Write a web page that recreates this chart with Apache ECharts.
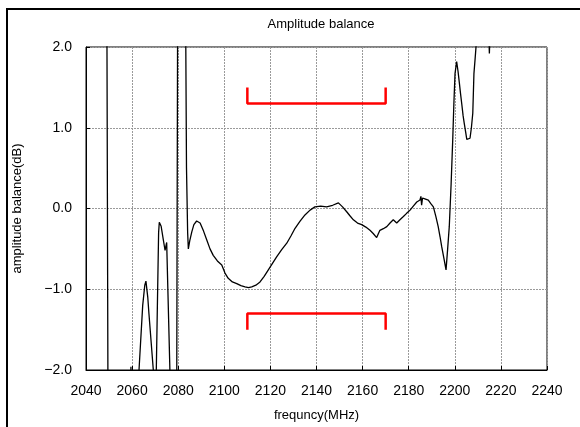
<!DOCTYPE html>
<html>
<head>
<meta charset="utf-8">
<script src="https://cdn.jsdelivr.net/npm/echarts@6/dist/echarts.min.js"></script>
<style>
html,body{margin:0;padding:0;background:#fff;}
#chart{width:580px;height:427px;}
</style>
</head>
<body>
<div id="chart"></div>
<script>
// ---- data ----
const xTicks = [2040, 2060, 2080, 2100, 2120, 2140, 2160, 2180, 2200, 2220, 2240];
const yTicks = [-2.0, -1.0, 0.0, 1.0, 2.0];

// frequency (MHz)
const freqs = [
  2040, 2049.0, 2049.6, 2059.3, 2059.5, 2059.7, 2062.5, 2063.0, 2064.6, 2065.5, 2066.0, 2066.8, 2067.3, 2069.2, 2069.6,
  2070.0, 2070.5, 2071.5, 2071.8, 2072.6, 2073.5, 2074.3, 2075.0, 2075.7, 2076.4, 2076.8, 2079.3, 2079.8, 2083.1, 2083.6,
  2084.1, 2084.4, 2085.0, 2085.9, 2086.8, 2088.0, 2089.5, 2091.0, 2092.4, 2093.8, 2095.2, 2097.0, 2098.9, 2100.3, 2101.7,
  2103.5, 2105.4, 2107.2, 2109.0, 2110.5, 2111.9, 2113.7, 2115.5, 2117.3, 2119.1, 2120.9, 2122.7, 2124.9, 2127.1, 2128.9,
  2130.7, 2132.8, 2135.0, 2137.2, 2139.3, 2141.8, 2144.4, 2147.0, 2149.5, 2151.3, 2153.1, 2154.5, 2156.0, 2157.8, 2159.6,
  2161.4, 2163.2, 2164.6, 2166.1, 2167.5, 2169.0, 2170.5, 2171.9, 2173.3, 2174.8, 2176.2, 2177.7, 2179.1, 2180.6, 2182.0,
  2183.5, 2184.9, 2185.3, 2185.6, 2186.0, 2187.0, 2188.5, 2189.6, 2190.7, 2191.8, 2192.8, 2193.6, 2194.3, 2195.3, 2196.2,
  2196.9, 2197.6, 2198.4, 2199.1, 2199.6, 2200.1, 2200.8, 2201.4, 2202.0, 2202.5, 2203.0, 2203.6, 2204.1, 2204.7, 2205.2,
  2206.0, 2206.6, 2207.2, 2207.8, 2208.3, 2208.8, 2209.2, 2209.6, 2214.7, 2215.0, 2215.3, 2240
];
// amplitude balance (dB)
const amps = [
  3, 3, -3, -3, -1.96, -3, -3, -2.0, -1.2, -0.95, -0.90, -1.1, -1.3, -2.0, -3,
  -3, -2.0, -0.3, -0.17, -0.22, -0.38, -0.52, -0.42, -0.42, -2.0, -3, -3, 3, 3, 0.5,
  -0.3, -0.5, -0.4, -0.29, -0.2, -0.155, -0.18, -0.28, -0.39, -0.5, -0.58, -0.65, -0.70, -0.8, -0.865,
  -0.91, -0.93, -0.955, -0.97, -0.98, -0.97, -0.95, -0.91, -0.84, -0.76, -0.68, -0.60, -0.51, -0.43, -0.34,
  -0.245, -0.16, -0.08, -0.02, 0.02, 0.03, 0.02, 0.04, 0.07, 0.02, -0.04, -0.09, -0.14, -0.18, -0.20,
  -0.23, -0.27, -0.31, -0.36, -0.27, -0.25, -0.225, -0.18, -0.14, -0.18, -0.14, -0.10, -0.06, -0.02, 0.03,
  0.08, 0.105, 0.15, 0.04, 0.13, 0.12, 0.105, 0.06, 0.02, -0.1, -0.225, -0.35, -0.47, -0.62, -0.76,
  -0.5, -0.225, 0.3, 0.85, 1.3, 1.67, 1.82, 1.7, 1.55, 1.42, 1.30, 1.15, 1.055, 0.95, 0.857,
  0.85, 0.87, 1.0, 1.18, 1.67, 1.85, 2.0, 2.2, 2.2, 1.92, 2.2, 3
];

// spec limit brackets
const upperLimitX = [2110, 2110, 2170, 2170];
const upperLimitY = [1.5, 1.3, 1.3, 1.5];
const lowerLimitX = [2110, 2110, 2170, 2170];
const lowerLimitY = [-1.5, -1.3, -1.3, -1.5];

const zip = (a, b) => a.map((v, i) => [v, b[i]]);
const FONT = 'Liberation Sans';

const chart = echarts.init(document.getElementById('chart'), null, {renderer: 'canvas'});
chart.setOption({
  animation: false,
  backgroundColor: '#fff',
  textStyle: {fontFamily: FONT},
  title: {
    text: 'Amplitude balance',
    left: 316, top: 13, textAlign: 'center',
    textStyle: {fontSize: 13, fontWeight: 'normal', color: '#000', fontFamily: FONT}
  },
  graphic: [{
    type: 'rect', shape: {x: 7, y: 9, width: 700, height: 700},
    style: {fill: 'none', stroke: '#000', lineWidth: 2}, silent: true, z: -1
  }],
  grid: {left: 86, right: 33, top: 47, bottom: 57, show: true, borderColor: '#000', borderWidth: 1, backgroundColor: '#fff'},
  xAxis: {
    type: 'value', min: xTicks[0], max: xTicks[xTicks.length - 1], interval: 20,
    name: 'frequncy(MHz)', nameLocation: 'middle', nameGap: 39,
    nameTextStyle: {fontSize: 13, color: '#000', fontFamily: FONT},
    axisLine: {show: true, onZero: false, lineStyle: {color: '#000', width: 1}},
    axisTick: {show: true, inside: true, length: 4, lineStyle: {color: '#000'}},
    axisLabel: {fontSize: 14, color: '#000', margin: 14, fontFamily: FONT, formatter: v => String(v)},
    splitLine: {show: true, lineStyle: {color: '#9a9a9a', type: [2, 1], width: 1}}
  },
  yAxis: {
    type: 'value', min: yTicks[0], max: yTicks[yTicks.length - 1], interval: 1,
    name: 'amplitude balance(dB)', nameLocation: 'middle', nameGap: 62, nameRotate: 90,
    nameTextStyle: {fontSize: 13, color: '#000', fontFamily: FONT},
    axisLine: {show: true, onZero: false, lineStyle: {color: '#000', width: 1}},
    axisTick: {show: true, inside: true, length: 4, lineStyle: {color: '#000'}},
    axisLabel: {
      fontSize: 14, color: '#000', margin: 14, fontFamily: FONT,
      formatter: v => (v < 0 ? '\u2212' : '') + Math.abs(v).toFixed(1)
    },
    splitLine: {show: true, lineStyle: {color: '#9a9a9a', type: [2, 1], width: 1}}
  },
  series: [
    {
      type: 'line', data: zip(freqs, amps), showSymbol: false, clip: true,
      lineStyle: {color: '#000', width: 1.3}, z: 3
    },
    {
      type: 'line', data: zip(upperLimitX, upperLimitY), showSymbol: false, clip: true,
      lineStyle: {color: '#ff0000', width: 2.5}, z: 4
    },
    {
      type: 'line', data: zip(lowerLimitX, lowerLimitY), showSymbol: false, clip: true,
      lineStyle: {color: '#ff0000', width: 2.5}, z: 4
    }
  ]
});
</script>
</body>
</html>
